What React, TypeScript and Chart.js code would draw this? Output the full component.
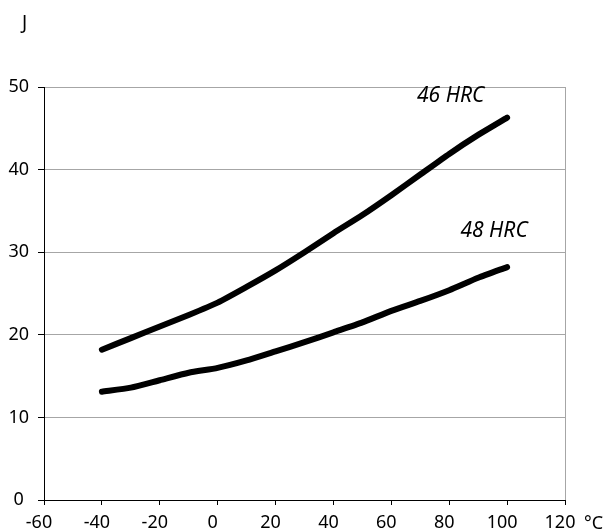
import React, { useEffect, useRef } from "react";
import { Chart, registerables } from "chart.js";

Chart.register(...registerables);

const temps = [-40, -30, -20, -10, 0, 10, 20, 30, 40, 50, 60, 70, 80, 90, 100];
const hrc46 = [18.2, 19.6, 21.0, 22.4, 23.9, 25.8, 27.8, 30.0, 32.3, 34.5, 36.9, 39.4, 41.9, 44.2, 46.3];
const hrc48 = [13.1, 13.6, 14.5, 15.4, 16.0, 16.9, 18.0, 19.1, 20.3, 21.5, 22.9, 24.1, 25.4, 26.9, 28.2];
const seriesLabels = ["46 HRC", "48 HRC"];
const labelPositions = [
  { x: 80.5, y: 48.9 },
  { x: 95.5, y: 32.6 },
];
const yTitle = "J";
const xTitle = "°C";

const FONT = "'Noto Sans', sans-serif";

const annotationPlugin = {
  id: "annots",
  afterDraw(chart: any) {
    const { ctx, chartArea, scales } = chart;
    const xs = scales.x;
    const ys = scales.y;
    ctx.save();
    // right border
    ctx.strokeStyle = "#a6a6a6";
    ctx.lineWidth = 1;
    ctx.beginPath();
    ctx.moveTo(Math.round(chartArea.right) + 0.5, chartArea.top);
    ctx.lineTo(Math.round(chartArea.right) + 0.5, chartArea.bottom);
    ctx.stroke();
    // series labels
    ctx.fillStyle = "#000";
    ctx.font = `italic 21px ${FONT}`;
    ctx.textAlign = "center";
    ctx.textBaseline = "middle";
    seriesLabels.forEach((t, i) => {
      ctx.fillText(t, xs.getPixelForValue(labelPositions[i].x), ys.getPixelForValue(labelPositions[i].y));
    });
    // axis titles
    ctx.font = `19px ${FONT}`;
    ctx.textAlign = "left";
    ctx.textBaseline = "alphabetic";
    ctx.fillText(yTitle, 22, 29);
    ctx.font = `18px ${FONT}`;
    ctx.fillText(xTitle, 584, 529);
    ctx.restore();
  },
};

export default function App() {
  const ref = useRef<HTMLCanvasElement>(null);
  useEffect(() => {
    document.body.style.margin = "0";
    const chart = new Chart(ref.current!, {
      type: "line",
      data: {
        datasets: [
          {
            label: seriesLabels[0],
            data: temps.map((t, i) => ({ x: t, y: hrc46[i] })),
            borderColor: "#000",
            borderWidth: 6,
            pointRadius: 0,
            tension: 0.2,
            borderCapStyle: "round",
            borderJoinStyle: "round",
          },
          {
            label: seriesLabels[1],
            data: temps.map((t, i) => ({ x: t, y: hrc48[i] })),
            borderColor: "#000",
            borderWidth: 6,
            pointRadius: 0,
            tension: 0.2,
            borderCapStyle: "round",
            borderJoinStyle: "round",
          },
        ],
      },
      options: {
        animation: false,
        responsive: false,
        maintainAspectRatio: false,
        layout: { padding: { top: 87, right: 47, left: 0, bottom: 0 } },
        plugins: { legend: { display: false }, tooltip: { enabled: false } },
        scales: {
          x: {
            type: "linear",
            min: -60,
            max: 120,
            afterFit: (s: any) => {
              s.height = 31;
            },
            ticks: {
              stepSize: 20,
              color: "#000",
              font: { family: FONT, size: 18 },
              padding: 7,
              maxRotation: 0,
              labelOffset: -5,
            },
            grid: {
              drawOnChartArea: false,
              drawTicks: true,
              tickLength: 5,
              tickColor: "#000",
            },
            border: { color: "#000", width: 1 },
          },
          y: {
            min: 0,
            max: 50,
            afterFit: (s: any) => {
              s.width = 44;
            },
            ticks: {
              stepSize: 10,
              color: "#000",
              font: { family: FONT, size: 18 },
              padding: 9,
              crossAlign: "center",
            },
            grid: {
              color: "#a6a6a6",
              tickColor: "#000",
              tickLength: 6,
              drawTicks: true,
            },
            border: { color: "#000", width: 1 },
          },
        },
      },
      plugins: [annotationPlugin],
    });
    return () => chart.destroy();
  }, []);
  return (
    <div style={{ width: 612, height: 531 }}>
      <canvas ref={ref} width={612} height={531} style={{ display: "block" }} />
    </div>
  );
}
